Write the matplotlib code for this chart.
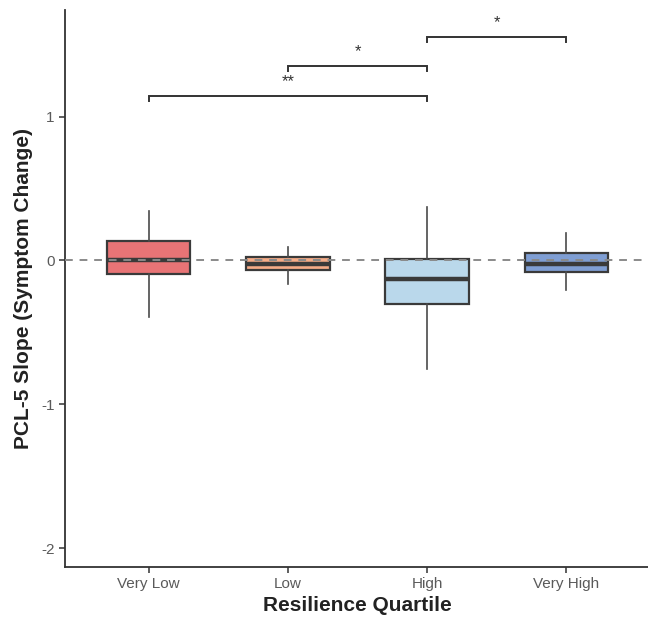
import matplotlib
matplotlib.use("Agg")
import matplotlib.pyplot as plt

categories = ["Very Low", "Low", "High", "Very High"]
q1 = [-0.092, -0.063, -0.306, -0.081]
med = [0.0, -0.028, -0.128, -0.028]
q3 = [0.134, 0.022, 0.011, 0.053]
whislo = [-0.392, -0.167, -0.753, -0.206]
whishi = [0.344, 0.090, 0.368, 0.188]
colors = ["#E87476", "#F5AC88", "#BAD8EB", "#7F9ED3"]

# significance comparisons (group index pairs), bracket heights, labels
sig_pairs = [(0, 2), (1, 2), (2, 3)]
sig_heights = [1.14, 1.35, 1.55]
sig_labels = ["**", "*", "*"]

plt.rcParams['font.family'] = ['Liberation Sans', 'DejaVu Sans']

fig = plt.figure(figsize=(6.48, 6.19), dpi=100)
ax = fig.add_axes([65/648, 52/619, 585/648, 557/619])

stats = []
for i, c in enumerate(categories):
    stats.append(dict(label=c, q1=q1[i], med=med[i], q3=q3[i],
                      whislo=whislo[i], whishi=whishi[i], fliers=[]))
positions = list(range(1, len(categories) + 1))
bp = ax.bxp(stats, positions=positions, widths=0.6, patch_artist=True,
            showcaps=False, showfliers=False,
            boxprops=dict(edgecolor="#3a3a3a", linewidth=1.6),
            medianprops=dict(color="#3a3a3a", linewidth=3.2),
            whiskerprops=dict(color="#4a4a4a", linewidth=1.2))
for patch, col in zip(bp['boxes'], colors):
    patch.set_facecolor(col)

ax.axhline(0, color="#8a8a8a", linestyle=(0, (4, 3.5)), linewidth=1.4, zorder=5)

tip = 0.035
for (a, b), h, lab in zip(sig_pairs, sig_heights, sig_labels):
    xa, xb = positions[a], positions[b]
    ax.plot([xa, xa, xb, xb], [h - tip, h, h, h - tip], color="#333333",
            linewidth=1.4, solid_joinstyle='miter')
    ax.text((xa + xb) / 2, h + 0.05, lab, ha="center", va="bottom",
            fontsize=12, color="#333333")

ax.set_xlim(0.4, 4.6)
ax.set_ylim(-2.13, 1.74)
ax.set_yticks([-2, -1, 0, 1])
ax.set_yticklabels(["-2", "-1", "0", "1"])
ax.set_xticks(positions)
ax.set_xticklabels(categories)
ax.tick_params(axis='both', colors="#333333", labelcolor="#5a5a5a",
               labelsize=11, length=4, width=1.1)
for s in ["top", "right"]:
    ax.spines[s].set_visible(False)
for s in ["left", "bottom"]:
    ax.spines[s].set_color("#333333")
    ax.spines[s].set_linewidth(1.3)

ax.set_xlabel("Resilience Quartile", fontsize=15, fontweight="bold", color="#222222", labelpad=3)
ax.set_ylabel("PCL-5 Slope (Symptom Change)", fontsize=15, fontweight="bold", color="#222222", labelpad=6)

fig.savefig("out.png", dpi=100)
